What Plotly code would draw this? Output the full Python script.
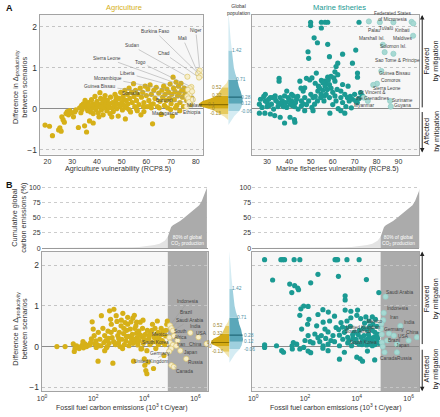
import numpy as np
import plotly.graph_objects as go

# ---------------- DATA ----------------
# Panel A left: agriculture vulnerability vs difference in productivity change
agri_points = [
    (19.0,-0.40),(20.8,-0.43),(22.0,-0.66),(24.5,-0.52),(25.0,-0.47),(25.5,-0.55),(25.8,-0.20),(26.3,-0.27),
    (26.8,-0.33),(27.5,-0.12),(28.0,-0.07),(28.5,-0.15),(29.0,-0.05),(29.8,-0.10),(30.5,-0.20),(31.0,-0.08),
    (31.5,-0.03),(32.5,-0.46),(33.0,0.02),(33.5,-0.10),(33.8,0.08),(34.0,-0.02),(34.5,0.05),(35.0,-0.42),
    (35.5,0.10),(35.8,-0.57),(36.0,0.00),(36.3,-0.05),(36.5,0.15),(37.0,-0.30),(37.0,0.05),(37.5,-0.08),
    (37.8,0.22),(38.0,0.02),(38.3,0.12),(38.5,-0.12),(39.0,0.08),(39.2,0.30),(39.5,-0.02),(40.0,0.18),
    (40.2,0.04),(40.5,-0.10),(41.0,0.10),(41.2,0.39),(41.5,0.25),(41.8,-0.03),(42.0,0.06),(42.3,0.15),
    (42.5,-0.15),(43.0,0.03),(43.3,0.32),(43.5,0.10),(44.0,-0.05),(44.2,0.20),(44.5,0.05),(45.0,0.12),
    (45.3,-0.12),(45.5,0.28),(46.0,0.02),(46.3,0.15),(46.6,-0.07),(47.0,0.08),(47.3,0.35),(47.6,0.20),
    (48.0,0.00),(48.3,0.12),(48.6,-0.18),(49.0,0.25),(49.3,0.05),(49.6,0.40),(50.0,0.15),(50.3,-0.03),
    (50.6,0.30),(51.0,0.08),(51.3,0.45),(51.5,-0.25),(51.8,0.20),(52.0,0.02),(52.3,0.35),(52.6,0.12),
    (53.0,0.50),(53.3,0.25),(53.6,-0.08),(54.0,0.40),(54.3,0.15),(54.8,0.61),(55.0,0.30),(55.3,0.05),
    (55.6,0.45),(56.0,0.20),(56.3,-0.05),(56.6,0.35),(57.0,0.10),(57.5,0.50),(57.8,-0.15),(58.0,0.28),
    (58.5,0.40),(59.0,0.15),(59.5,0.55),(60.0,0.32),(60.3,0.05),(60.6,0.48),(61.0,0.20),(61.5,0.58),
    (62.0,0.35),(62.5,-0.37),(62.8,0.12),(63.0,0.45),(63.5,0.25),(64.0,0.52),(64.5,0.05),(65.0,0.38),
    (65.5,0.18),(66.0,-0.14),(66.3,0.45),(66.6,0.28),(67.0,0.55),(67.3,0.08),(67.6,0.35),(68.0,0.20),
    (68.3,0.48),(68.6,0.02),(69.0,0.40),(69.3,0.25),(69.6,0.60),(70.0,0.12),(70.3,0.35),(70.5,-0.18),
    (70.8,0.77),(71.0,0.50),(71.3,0.22),(71.6,0.42),(72.0,0.65),(72.3,0.08),(72.6,0.31),(73.0,0.55),
    (73.3,0.38),(73.6,0.15),(74.0,0.62),(74.3,0.45),(74.6,0.28),(75.0,0.05),(75.3,0.50),(75.6,0.35),
    (76.0,0.40),(76.3,0.20),(77.0,0.30),(77.5,0.42),(78.0,0.10),(78.5,0.25),(73.5,-0.05),(69.8,-0.02),
    (62.0,0.02),(59.0,-0.07),(56.0,0.00),(53.0,-0.02),(46.0,-0.20),(40.8,-0.20),(38.5,-0.35),(34.5,0.12),
    (35.2,0.20),(36.8,0.08),(39.8,0.12),(42.8,0.22),(44.8,0.02),(47.8,0.28),(50.8,0.22),(58.8,0.05),
    (61.8,0.10),(65.2,0.02),(71.8,0.02),
]
agri_lab_names = ["Niger","Mali","Burkina Faso","Chad","Sudan","Togo","Sierra Leone","Liberia",
                  "Mozambique","Guinea Bissau","Somalia","Burundi","Madagascar","Malawi","Ethiopia"]
agri_lab_pts = [(81.6,0.93),(80.9,0.86),(82.0,0.80),(81.3,0.76),(76.6,0.78),(78.2,0.53),(77.6,0.50),(76.8,0.46),
                (77.5,0.36),(76.5,0.30),(77.0,0.25),(77.3,0.16),(76.3,0.05),(78.5,0.42),(78.8,0.22)]
agri_lab_txt = [(80.0,1.91),(74.8,1.71),(63.6,1.88),(67.2,1.35),(54.0,1.54),(57.6,1.13),(44.0,1.23),(52.4,0.86),
                (44.4,0.74),(41.2,0.55),(53.6,0.36),(67.2,0.19),(67.6,-0.13),(79.6,0.07),(78.4,-0.10)]

# Panel A right: marine fisheries vulnerability
fish_points = [
    (49.9,2.11),(54.8,2.11),(56.5,2.11),(57.7,2.11),(72.0,2.11),(49.9,2.03),(54.8,1.97),(51.5,1.73),
    (53.0,1.61),(57.7,1.57),(48.7,1.39),(64.5,1.33),(70.5,1.43),(58.5,1.27),(49.0,1.23),(62.3,1.11),
    (61.5,1.03),(61.0,0.90),(69.0,1.11),(71.3,0.87),(71.3,0.77),(62.3,0.83),(52.5,0.87),(48.0,0.74),
    (49.5,0.70),(45.0,0.67),(35.5,0.74),(35.5,0.67),(54.8,0.69),(56.2,0.67),(57.0,0.63),(58.5,0.59),
    (59.2,0.50),(57.5,0.47),(54.0,0.50),(53.2,0.43),(54.7,0.35),(56.2,0.31),(53.0,0.19),(51.7,0.11),
    (54.5,0.27),(56.0,0.19),(58.5,0.27),(61.0,0.31),(61.5,0.19),(63.7,0.27),(64.5,0.15),(66.7,0.27),
    (67.5,0.19),(69.0,0.23),(70.5,0.19),(72.7,0.39),(73.5,0.31),(71.2,0.15),(63.7,-0.05),(65.5,-0.11),
    (58.7,-0.11),(50.5,0.03),(51.0,-0.05),(49.0,0.19),(47.2,0.27),(45.7,0.19),(43.5,0.23),(41.2,0.19),
    (39.7,0.27),(38.0,0.31),(37.0,0.19),(36.0,0.27),(33.7,0.31),(32.5,0.27),(30.7,0.23),(29.2,0.19),
    (27.0,0.23),(26.5,0.11),(27.7,0.03),(30.0,0.05),(32.0,0.11),(33.0,-0.01),(35.0,0.05),(36.7,0.11),
    (39.0,0.03),(40.5,0.11),(42.5,0.05),(44.2,-0.01),(45.7,0.07),(47.2,-0.05),(29.0,-0.11),(31.5,-0.13),
    (33.5,-0.17),(36.0,-0.21),(38.0,-0.35),(42.5,-0.27),(42.7,-0.33),(40.5,-0.21),(26.5,-0.11),(29.2,0.35),
    (31.5,0.27),(39.0,0.43),(41.2,0.35),(42.0,0.31),(47.2,0.51),(46.5,0.43),(51.0,0.27),(63.7,0.43),
    (62.0,0.47),(64.5,0.59),(61.0,0.67),(57.7,0.77),(59.2,0.79),(55.5,0.63),(28.5,0.30),(30.0,0.15),
    (31.0,0.08),(34.0,0.20),(35.0,0.15),(37.5,0.05),(38.5,0.15),(40.0,0.22),(41.5,0.08),(43.0,0.15),
    (44.0,0.30),(46.5,0.12),(48.0,0.10),(50.0,0.35),(52.0,0.30),(55.5,0.45),(57.0,0.35),(60.0,0.40),
    (65.5,0.35),(68.0,0.30),(70.0,0.35),(72.0,0.25),(66.0,0.05),(68.5,0.02),(60.0,0.10),(62.5,0.00),
    (53.5,0.55),(56.5,0.55),(58.0,0.70),(60.5,0.75),(67.0,0.55),(52.0,0.62),(50.5,0.75),(45.5,0.50),
]
fish_hi_pts = [(76.5,2.13),(81.5,2.11),(87.7,2.11),(96.0,2.12),(96.8,2.08),(96.7,1.78),(82.9,1.56),(83.7,1.38),
               (87.7,1.34),(82.2,0.92),(80.2,0.61),(78.5,0.58),(74.2,0.27),(76.0,0.19),(86.2,0.19),(86.5,0.05)]
fish_lab_names = ["Federated States<br>of Micronesia","Palau","Tuvalu","Kiribati","Marshall Isl.","Maldives",
                  "Solomon Isl.","Sao Tome & Principe","Guinea Bissau","Comoros","Sierra Leone",
                  "St Vincent &<br>the Grenadines","Suriname","Guyana","Myanmar"]
fish_lab_txt = [(87.3,2.24),(79.2,1.90),(84.6,1.95),(91.8,1.90),(77.8,1.71),(92.2,1.71),(87.7,1.52),(89.5,1.18),
                (88.6,0.86),(86.4,0.69),(85.0,0.50),(78.3,0.33),(91.8,0.21),(91.8,0.07),(74.2,0.07)]

# Population-weighted distributions (violins): value levels and relative density
agri_dens_y = [0.72,0.62,0.52,0.42,0.32,0.25,0.19,0.12,0.06,0.00,-0.06,-0.13,-0.20,-0.28]
agri_dens_w = [0,2,6,9,12,18,26,30,29,20,14,9,4,0]
agri_quant = [-0.13,0.0,0.1,0.32,0.52]
fish_dens_y = [2.36,2.0,1.7,1.42,1.2,1.0,0.85,0.71,0.55,0.42,0.28,0.18,0.12,0.03,-0.06,-0.18,-0.40]
fish_dens_w = [0,1,2.2,3.5,4.5,5.5,7,9,10.5,12.5,14,14.5,14,13,11,6,0]
fish_quant = [-0.06,0.12,0.28,0.71,1.42]
agri_quant_labels = ["-0.13","0","0.1","0.32","0.52"]
fish_quant_labels = ["-0.06","0.12","0.28","0.71","1.42"]

# Cumulative global carbon emissions (log10 of 10^3 t C/yr, percent)
cum_log = [0.0,1.0,2.0,2.5,3.0,3.5,3.8,4.0,4.2,4.4,4.6,4.8,4.92,5.0,5.05,5.12,5.25,5.4,5.55,5.7,5.85,6.0,6.15,6.25,6.35,6.45]
cum_pct = [0,0.05,0.2,0.4,0.8,1.2,1.8,2.5,3.5,5,7,12,19,30,35,38,41,45,50,55,60,66,71,78,88,100]
thresh_log = 4.92

# Panel B left: emissions (log10) vs difference, agriculture
bagri_points = [
    (0.58,0.00),(0.90,0.00),(1.22,0.07),(1.29,-0.04),(1.26,-0.12),(1.35,0.02),(1.45,-0.05),(1.52,0.00),
    (1.58,0.04),(1.62,-0.03),(1.68,0.07),(1.74,0.00),(1.80,0.03),(1.87,0.04),(1.93,0.19),(1.96,0.61),
    (2.00,0.43),(2.04,0.27),(2.06,0.07),(2.10,0.14),(2.12,-0.02),(2.15,0.05),(2.19,-0.36),(2.22,0.02),
    (2.26,0.18),(2.32,0.76),(2.38,0.45),(2.42,0.10),(2.45,0.27),(2.50,0.15),(2.52,-0.03),(2.55,0.00),
    (2.58,0.38),(2.62,0.08),(2.64,0.88),(2.68,0.67),(2.71,0.55),(2.74,0.22),(2.77,-0.41),(2.81,0.92),
    (2.84,0.42),(2.87,0.05),(2.90,0.76),(2.93,0.62),(2.96,0.27),(2.99,0.10),(3.02,0.35),(3.05,0.00),
    (3.09,0.51),(3.12,0.18),(3.16,0.82),(3.19,0.32),(3.22,0.05),(3.25,0.59),(3.28,0.14),(3.31,0.40),
    (3.35,0.72),(3.38,0.25),(3.40,0.02),(3.45,0.43),(3.48,0.61),(3.50,0.20),(3.53,0.30),(3.56,0.08),
    (3.58,-0.36),(3.61,0.77),(3.63,0.45),(3.65,0.12),(3.67,0.51),(3.70,0.33),(3.72,0.22),(3.75,0.04),
    (3.78,0.38),(3.80,0.15),(3.84,0.60),(3.87,-0.06),(3.90,0.25),(3.93,0.45),(3.96,0.08),(4.00,-0.30),
    (4.02,-0.46),(4.04,0.30),(4.06,-0.59),(4.08,0.15),(4.10,-0.67),(4.12,0.40),(4.15,-0.38),(4.18,0.20),
    (4.22,0.05),(4.25,0.35),(4.28,0.10),(4.32,0.55),(4.36,-0.54),(4.38,0.25),(4.42,0.45),(4.45,0.12),
    (4.48,0.30),(4.51,0.63),(4.54,0.35),(4.58,0.20),(4.62,0.10),(4.66,0.45),(4.70,0.15),(4.74,0.38),
    (4.77,-0.22),(4.80,0.05),(4.84,0.26),(4.88,0.55),(4.90,0.63),(2.30,0.02),(2.60,0.20),(2.80,0.12),
    (3.00,0.20),(3.30,0.25),(3.45,0.10),(3.60,0.18),(3.85,0.28),(4.00,0.18),(4.20,0.28),(4.40,0.22),
    (4.60,0.32),(4.75,0.10),(3.20,0.45),(3.70,0.60),(3.95,0.65),(4.30,0.40),(2.20,0.35),(1.90,0.10),
    (1.60,0.12),(2.70,0.35),(3.10,0.65),(3.35,0.55),(3.55,0.70),(4.45,-0.05),(4.10,-0.10),(3.90,-0.05),
    (3.15,-0.05),(2.45,-0.10),(4.55,0.05),(4.68,0.30),(4.85,0.40),
]
bagri_hi_pts = [(5.00,0.52),(5.06,0.45),(5.12,0.39),(5.16,0.26),(4.98,0.22),(5.00,0.10),(5.12,0.04),(5.05,-0.05),
                (4.97,-0.12),(5.80,0.34),(6.12,0.23),(6.44,0.07),(5.41,-0.10),(5.64,-0.30),(5.06,-0.46),
                (5.15,-0.50),(5.25,0.02),(5.30,0.15)]
bagri_lab_names = ["Indonesia","Brazil","Saudi Arabia","South<br>Africa","Mexico","South Korea","Iran","Germany",
                   "United Kingdom","India","USA","China","Japan","Russia","Canada"]
bagri_lab_txt = [(5.71,1.11),(5.64,0.85),(5.79,0.65),(5.41,0.29),(4.63,0.29),(4.44,0.09),(5.44,0.04),(4.63,-0.18),
                 (4.25,-0.37),(6.02,0.50),(6.25,0.31),(6.02,0.04),(5.79,-0.15),(6.02,-0.40),(5.56,-0.62)]

# Panel B right: emissions (log10) vs difference, fisheries
bfish_points = [
    (0.44,2.14),(1.07,2.14),(1.14,2.14),(1.21,2.14),(1.58,2.14),(1.80,2.14),(3.16,2.14),(3.21,2.14),
    (3.26,2.14),(3.62,2.14),(4.09,2.14),(0.75,1.64),(1.41,1.54),(1.49,1.33),(1.72,1.44),(1.75,1.40),
    (2.22,1.57),(2.50,1.78),(3.29,1.73),(4.37,1.65),(3.55,1.25),(3.55,1.15),(1.84,0.93),(2.12,0.99),
    (2.69,0.91),(3.55,0.90),(3.77,0.87),(4.03,0.90),(4.85,1.33),(1.80,0.77),(2.15,0.67),(2.50,0.79),
    (3.14,0.75),(2.95,0.63),(2.70,0.60),(2.10,0.55),(2.45,0.51),(2.77,0.43),(3.20,0.47),(3.39,0.59),
    (3.62,0.63),(3.77,0.71),(4.00,0.77),(4.15,0.69),(4.35,0.73),(4.47,0.63),(4.60,0.73),(4.72,0.67),
    (1.87,0.43),(2.12,0.27),(2.38,0.31),(2.63,0.27),(2.89,0.36),(3.08,0.27),(3.33,0.28),(3.52,0.35),
    (3.65,0.23),(3.84,0.29),(3.97,0.18),(4.16,0.23),(4.28,0.27),(4.41,0.18),(4.54,0.14),(4.66,0.23),
    (4.79,0.27),(1.55,0.10),(1.68,0.06),(2.00,0.15),(2.31,0.09),(2.57,0.12),(2.70,0.02),(2.89,0.06),
    (3.14,0.12),(3.33,0.02),(3.46,0.18),(3.65,0.09),(3.80,0.02),(3.92,0.12),(4.09,0.06),(4.22,0.14),
    (4.38,0.04),(4.51,0.09),(4.60,0.02),(0.44,0.04),(0.44,-0.02),(1.10,-0.10),(1.17,-0.14),(1.51,-0.06),
    (1.80,-0.06),(2.12,-0.11),(2.22,-0.15),(2.69,-0.04),(2.89,-0.10),(3.33,-0.31),(4.00,-0.26),(4.13,-0.30),
    (4.22,-0.36),(4.69,-0.33),(3.52,-0.14),(4.41,-0.11),(3.70,0.15),(3.85,0.20),(4.00,0.10),(4.05,0.30),
    (4.20,0.05),(4.30,0.15),(4.45,0.30),(4.50,0.22),(4.55,0.05),(4.65,0.12),(4.70,0.35),(4.75,0.10),
    (4.80,0.20),(3.90,0.35),(4.10,0.40),(4.25,0.45),(4.40,0.42),(4.60,0.40),(3.30,0.42),(3.00,0.15),
    (2.80,0.20),(2.50,0.22),(2.20,0.12),(3.60,0.45),(3.75,0.50),(3.45,0.48),(4.78,0.50),(4.30,0.58),
    (4.70,0.05),(4.85,0.08),(4.83,0.30),(4.50,0.50),(4.62,0.55),(2.90,0.85),(1.95,1.00),(1.60,1.50),
    (0.90,0.02),(1.50,0.02),(1.95,-0.02),
]
bfish_hi_pts = [(5.11,1.23),(5.04,0.83),(5.02,0.65),(5.68,0.51),(4.95,0.56),(4.93,0.44),(5.24,0.32),(6.32,0.23),
                (4.96,0.30),(6.00,0.15),(5.17,0.15),(4.97,0.10),(5.55,0.06),(5.07,-0.14),(5.55,-0.14),
                (5.43,0.27),(5.00,0.00)]
bfish_lab_names = ["Saudi Arabia","Indonesia","Iran","India","Mexico","United Kingdom","Germany","China",
                   "South Africa","USA","Brazil","South Korea","Japan","Canada","Russia"]
bfish_lab_txt = [(5.65,1.33),(5.57,0.94),(5.46,0.72),(6.03,0.60),(4.72,0.62),(4.24,0.47),(5.42,0.41),(6.15,0.35),
                 (4.05,0.36),(5.80,0.24),(5.42,0.14),(4.24,0.09),(5.76,0.02),(5.23,-0.30),(5.84,-0.30)]

# ---------------- STYLE / LAYOUT HELPERS ----------------
W, H = 440, 417
FONT = "Liberation Sans, Arial, Helvetica, sans-serif"
GOLD = "#d6b018"
GOLD_LIGHT = "#f6eecb"
GOLD_EDGE = "#dcc66a"
TEAL = "#1b9a93"
TEAL_LIGHT = "#a7d9d3"
TEAL_EDGE = "#8fcdc6"
BOXBG = "#f7f7f7"
GRAYZONE = "#ababab"
MSIZE = 5.2


def fx(p):
    return p / W


def fy(p):
    return 1 - p / H


fig = go.Figure()


def scatter(pts, xa, ya, color, logx=False, edge=None, size=MSIZE):
    xs = [10 ** p[0] if logx else p[0] for p in pts]
    ys = [p[1] for p in pts]
    fig.add_trace(go.Scatter(
        x=xs, y=ys, mode="markers", xaxis=xa, yaxis=ya, hoverinfo="skip", showlegend=False,
        marker=dict(color=color, size=size,
                    line=dict(width=0.7 if edge else 0, color=edge or color))))


def violin(y_grid, w_grid, quant, sign, scale, cols, medc, xa, ya):
    order = np.argsort(y_grid)
    yg = np.array(y_grid, dtype=float)[order]
    wg = np.array(w_grid, dtype=float)[order] * scale
    bounds = [yg[0], quant[0], quant[1], quant[3], quant[4], yg[-1]]
    band_cols = [cols[0], cols[1], cols[2], cols[1], cols[0]]
    for i in range(5):
        lo, hi = bounds[i], bounds[i + 1]
        ys = np.concatenate([[lo], yg[(yg > lo) & (yg < hi)], [hi]])
        ws = np.interp(ys, yg, wg)
        fig.add_trace(go.Scatter(
            x=np.concatenate([[0], sign * ws, [0]]), y=np.concatenate([[lo], ys, [hi]]),
            fill="toself", fillcolor=band_cols[i], mode="lines", line=dict(width=0, color=band_cols[i]),
            xaxis=xa, yaxis=ya, hoverinfo="skip", showlegend=False))
    med = quant[2]
    fig.add_trace(go.Scatter(
        x=[0, sign * float(np.interp(med, yg, wg))], y=[med, med], mode="lines",
        line=dict(color=medc, width=1.2), xaxis=xa, yaxis=ya, hoverinfo="skip", showlegend=False))


# ---------------- TRACES ----------------
scatter(agri_points, "x", "y", GOLD)
scatter(agri_lab_pts, "x", "y", GOLD_LIGHT, edge=GOLD_EDGE)
scatter(fish_points, "x2", "y2", TEAL)
scatter(fish_hi_pts, "x2", "y2", TEAL_LIGHT, edge=TEAL_EDGE)

AGRI_COLS = ["#f2e5ad", "#e6ca5e", "#d4aa14"]
FISH_COLS = ["#d5ecf3", "#9fd0de", "#5aa7b9"]
violin(agri_dens_y, agri_dens_w, agri_quant, -1, 1.0, AGRI_COLS, "#8c7000", "x3", "y3")
violin(fish_dens_y, fish_dens_w, fish_quant, 1, 1.0, FISH_COLS, "#226a7a", "x3", "y3")


def cumulative(xa, ya):
    cl = np.array(cum_log)
    cp = np.array(cum_pct)
    tval = float(np.interp(thresh_log, cl, cp))
    lx = np.concatenate([cl[cl < thresh_log], [thresh_log]])
    ly = np.concatenate([cp[cl < thresh_log], [tval]])
    dx = np.concatenate([[thresh_log], cl[cl > thresh_log]])
    dy = np.concatenate([[tval], cp[cl > thresh_log]])
    fig.add_trace(go.Scatter(x=10 ** lx, y=ly, fill="tozeroy", fillcolor="#e3e3e3", mode="lines",
                             line=dict(width=0, color="#e3e3e3"), xaxis=xa, yaxis=ya,
                             hoverinfo="skip", showlegend=False))
    fig.add_trace(go.Scatter(x=10 ** dx, y=dy, fill="tozeroy", fillcolor=GRAYZONE, mode="lines",
                             line=dict(width=0, color=GRAYZONE), xaxis=xa, yaxis=ya,
                             hoverinfo="skip", showlegend=False))


cumulative("x4", "y4")
cumulative("x7", "y7")

scatter(bagri_points, "x5", "y5", GOLD, logx=True)
scatter(bagri_hi_pts, "x5", "y5", GOLD_LIGHT, logx=True, edge=GOLD_EDGE)
violin(agri_dens_y, agri_dens_w, agri_quant, -1, 0.62, AGRI_COLS, "#8c7000", "x6", "y6")
violin(fish_dens_y, fish_dens_w, fish_quant, 1, 0.95, FISH_COLS, "#226a7a", "x6", "y6")
scatter(bfish_points, "x8", "y8", TEAL, logx=True)
scatter(bfish_hi_pts, "x8", "y8", TEAL_LIGHT, logx=True, edge=TEAL_EDGE)

# ---------------- AXES ----------------
A_DOM_Y = [fy(154), fy(13)]
B_DOM_Y = [fy(393), fy(252)]
C_DOM_Y = [fy(250), fy(186)]
L_DOM_X = [fx(35), fx(200)]
R_DOM_X = [fx(250), fx(419)]
BL_DOM_X = [fx(37), fx(205)]
V_DOM_X = [fx(190), fx(250)]
Y_RANGE_A = [-1.12, 2.29]
Y_RANGE_B = [-1.10, 2.34]
LOG_TICKS = [1, 1e2, 1e4, 1e6]
LOG_TEXT = ["10<sup>0</sup>", "10<sup>2</sup>", "10<sup>4</sup>", "10<sup>6</sup>"]


def box_x(domain, rng, anchor, tickvals, ticktext=None, log=False):
    d = dict(domain=domain, range=rng, anchor=anchor, showline=True, mirror=True, linecolor="#a3a3a3",
             linewidth=1, showgrid=False, zeroline=False, ticks="", tickvals=tickvals,
             tickfont=dict(size=7, color="#333"), fixedrange=True)
    if ticktext:
        d["ticktext"] = ticktext
    if log:
        d["type"] = "log"
    return d


def box_y(domain, rng, anchor, labels=True):
    return dict(domain=domain, range=rng, anchor=anchor, showline=True, mirror=True, linecolor="#a3a3a3",
                linewidth=1, tickvals=[-1, 0, 1, 2], ticktext=["\u22121", "0", "1", "2"],
                showticklabels=labels, ticks="", tickfont=dict(size=8.5, color="#333"),
                showgrid=True, gridcolor="#c4c4c4", gridwidth=0.8, griddash="dot",
                zeroline=True, zerolinecolor="#8c8c8c", zerolinewidth=1, fixedrange=True)


def cum_y(domain, anchor):
    return dict(domain=domain, range=[-2.5, 102.5], anchor=anchor, showline=False,
                tickvals=[0, 25, 50, 75, 100], ticks="", tickfont=dict(size=7, color="#333"),
                showgrid=True, gridcolor="#cccccc", gridwidth=0.8, griddash="dot",
                zeroline=True, zerolinecolor="#9a9a9a", zerolinewidth=1, fixedrange=True)


def cum_x(domain, rng, anchor):
    return dict(domain=domain, range=rng, anchor=anchor, type="log", showline=False, showgrid=False,
                zeroline=False, showticklabels=False, ticks="", fixedrange=True)


def hidden(domain, rng, anchor):
    return dict(domain=domain, range=rng, anchor=anchor, visible=False, fixedrange=True)


fig.update_layout(
    width=W, height=H, margin=dict(l=0, r=0, t=0, b=0),
    paper_bgcolor="white", plot_bgcolor="rgba(0,0,0,0)",
    font=dict(family=FONT, size=7, color="#333"), showlegend=False,
    xaxis=box_x(L_DOM_X, [16.8, 82.8], "y", [20, 30, 40, 50, 60, 70, 80]),
    yaxis=box_y(A_DOM_Y, Y_RANGE_A, "x"),
    xaxis2=box_x(R_DOM_X, [23.2, 99.5], "y2", [30, 40, 50, 60, 70, 80, 90]),
    yaxis2=box_y(A_DOM_Y, Y_RANGE_A, "x2", labels=False),
    xaxis3=hidden(V_DOM_X, [-36, 24], "y3"),
    yaxis3=hidden(A_DOM_Y, Y_RANGE_A, "x3"),
    xaxis4=cum_x(BL_DOM_X, [-0.02, 6.48], "y4"),
    yaxis4=cum_y(C_DOM_Y, "x4"),
    xaxis5=box_x(BL_DOM_X, [-0.02, 6.48], "y5", LOG_TICKS, LOG_TEXT, log=True),
    yaxis5=box_y(B_DOM_Y, Y_RANGE_B, "x5"),
    xaxis6=hidden(V_DOM_X, [-37, 23], "y6"),
    yaxis6=hidden(B_DOM_Y, Y_RANGE_B, "x6"),
    xaxis7=cum_x(R_DOM_X, [-0.04, 6.41], "y7"),
    yaxis7=cum_y(C_DOM_Y, "x7"),
    xaxis8=box_x(R_DOM_X, [-0.04, 6.41], "y8", LOG_TICKS, LOG_TEXT, log=True),
    yaxis8=box_y(B_DOM_Y, Y_RANGE_B, "x8", labels=False),
)

# ---------------- SHAPES ----------------
shapes = []
for xa, ya in [("x", "y"), ("x2", "y2"), ("x5", "y5"), ("x8", "y8")]:
    shapes.append(dict(type="rect", xref=f"{xa} domain", yref=f"{ya} domain", x0=0, x1=1, y0=0, y1=1,
                       fillcolor=BOXBG, line=dict(width=0), layer="below"))
shapes.append(dict(type="rect", xref="x5", yref="y5 domain", x0=10 ** thresh_log, x1=10 ** 6.48, y0=0, y1=1,
                   fillcolor=GRAYZONE, line=dict(width=0), layer="below"))
shapes.append(dict(type="rect", xref="x8", yref="y8 domain", x0=10 ** thresh_log, x1=10 ** 6.41, y0=0, y1=1,
                   fillcolor=GRAYZONE, line=dict(width=0), layer="below"))
fig.update_layout(shapes=shapes)

# ---------------- ANNOTATIONS ----------------
ann = []
LAB_FONT = dict(size=4.8, color="#444", family=FONT)


def label_lines(names, pts, txt, xa, ya):
    for n, p, t in zip(names, pts, txt):
        ann.append(dict(text=n, x=p[0], y=p[1], ax=t[0], ay=t[1], xref=xa, yref=ya, axref=xa, ayref=ya,
                        showarrow=True, arrowhead=0, arrowwidth=0.5, arrowcolor="#9a9a9a", standoff=3,
                        font=LAB_FONT))


def label_text(names, txt, xa, ya):
    for n, t in zip(names, txt):
        ann.append(dict(text=n, x=t[0], y=t[1], xref=xa, yref=ya, showarrow=False, font=LAB_FONT,
                        xanchor="center", yanchor="middle"))


label_lines(agri_lab_names, agri_lab_pts, agri_lab_txt, "x", "y")
label_text(fish_lab_names, fish_lab_txt, "x2", "y2")
label_lines(bagri_lab_names, bagri_hi_pts[:15], bagri_lab_txt, "x5", "y5")
label_text(bfish_lab_names, bfish_lab_txt, "x8", "y8")

QF_G = dict(size=4.8, color="#9a8228", family=FONT)
QF_B = dict(size=4.8, color="#4d8ea3", family=FONT)
agri_lab_off_A = [-13, -15, -17, -12, -12]
fish_lab_off_A = [18, 18, 18, 13, 9]
agri_lab_off_B = [-12, -19, -19, -12, -12]
fish_lab_off_B = [20, 20, 20, 13, 8]
for q, t, oa, ob in zip(agri_quant, agri_quant_labels, agri_lab_off_A, agri_lab_off_B):
    ann.append(dict(text=t, x=oa, y=q, xref="x3", yref="y3", showarrow=False, font=QF_G))
    ann.append(dict(text=t, x=ob, y=q, xref="x6", yref="y6", showarrow=False, font=QF_G))
for q, t, oa, ob in zip(fish_quant, fish_quant_labels, fish_lab_off_A, fish_lab_off_B):
    ann.append(dict(text=t, x=oa, y=q, xref="x3", yref="y3", showarrow=False, font=QF_B))
    ann.append(dict(text=t, x=ob, y=q, xref="x6", yref="y6", showarrow=False, font=QF_B))

for xa, ya, xl in [("x4", "y4", 5.7), ("x7", "y7", 5.62)]:
    ann.append(dict(text="80% of global<br>CO<sub>2</sub> production", x=xl, y=12, xref=xa, yref=ya,
                    showarrow=False, font=dict(size=4.8, color="white", family=FONT)))


def paper_text(text, x, y, size=7, color="#333", angle=0, bold=False):
    if bold:
        text = f"<b>{text}</b>"
    ann.append(dict(text=text, x=fx(x), y=fy(y), xref="paper", yref="paper", showarrow=False,
                    xanchor="center", yanchor="middle",
                    textangle=angle, font=dict(size=size, color=color, family=FONT)))


paper_text("A", 5, 6, size=9, color="#111", bold=True)
paper_text("B", 5, 185, size=9, color="#111", bold=True)
paper_text("Agriculture", 120, 6, size=7.5, color=GOLD)
paper_text("Marine fisheries", 338, 6, size=7.5, color=TEAL)
paper_text("Global<br>population", 236, 8, size=5)
paper_text("Agriculture vulnerability (RCP8.5)", 114, 168, size=7.2)
paper_text("Marine fisheries vulnerability (RCP8.5)", 336, 168, size=7.2)
paper_text("Fossil fuel carbon emissions (10<sup>3</sup> t C/year)", 118, 409, size=7)
paper_text("Fossil fuel carbon emissions (10<sup>3</sup> t C/year)", 335, 409, size=7)
paper_text("Difference in \u0394<sub>productivity</sub><br>between scenarios", 15, 86, size=7.3, angle=-90)
paper_text("Difference in \u0394<sub>productivity</sub><br>between scenarios", 15, 330, size=7.3, angle=-90)
paper_text("Cumulative global<br>carbon emissions (%)", 14, 218, size=7.3, angle=-90)
for yc in (60, 300):
    paper_text("Favored<br>by mitigation", 431, yc, size=7.3, color="#222", angle=-90)
for yc in (131, 371):
    paper_text("Affected<br>by mitigation", 431, yc, size=7.3, color="#222", angle=-90)

# vertical arrows (head position in paper coords, tail offset in pixels)
for head, tail in [(13, 107), (152, 110), (252, 346), (393, 350)]:
    ann.append(dict(text="", x=fx(422), y=fy(head), ax=0, ay=tail - head, xref="paper", yref="paper",
                    axref="pixel", ayref="pixel", showarrow=True, arrowhead=2, arrowsize=0.9,
                    arrowwidth=1, arrowcolor="#222"))

fig.update_layout(annotations=ann)
fig.write_html("out.html", config={"displayModeBar": False},
               post_script="document.body.style.margin='0px';document.body.style.overflow='hidden';")
